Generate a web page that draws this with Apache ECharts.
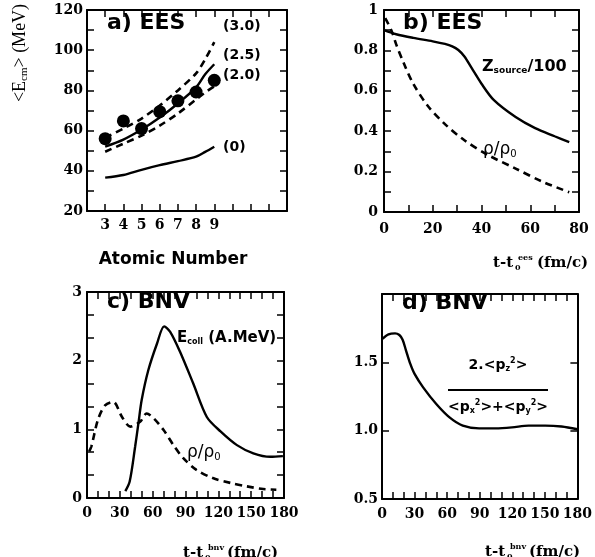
<!DOCTYPE html>
<html>
<head>
<meta charset="utf-8">
<script src="https://cdn.jsdelivr.net/npm/echarts@6/dist/echarts.min.js"></script>
<style>
html, body { margin: 0; padding: 0; background: #fff; }
#chart { width: 595px; height: 557px; }
</style>
</head>
<body>
<div id="chart"></div>
<script>
// a) EES : <Ecm> against atomic number
var atomicNumber = [3, 4, 5, 6, 7, 8, 9];
var eesPoints = [56, 64.8, 61, 69.4, 74.8, 79.2, 85];
var curveX = [3, 4, 5, 6, 7, 8, 8.5, 9];
var curve30 = [56.5, 61, 66, 72.5, 80, 88.5, 95.5, 104];
var curve25 = [52, 55.5, 60.5, 66.5, 73.5, 81.5, 88, 93];
var curve20 = [49.5, 53.5, 57.5, 62.5, 68.5, 75.5, 79, 82];
var curve0 = [36.6, 37.9, 40.5, 42.8, 44.8, 47, 49.4, 52];

// b) EES : Zsource/100 and rho/rho0 against time
var zTime = [0, 5, 12, 20, 25, 28, 30.5, 33, 36, 40, 45, 54, 62, 70, 76];
var zSource = [0.9, 0.88, 0.862, 0.845, 0.832, 0.82, 0.802, 0.77, 0.712, 0.635, 0.555, 0.47, 0.415, 0.375, 0.346];
var rhoTimeB = [0.5, 3, 5, 8, 12, 18, 25, 33, 43, 54, 65, 76];
var rhoB = [0.96, 0.9, 0.83, 0.74, 0.635, 0.525, 0.435, 0.355, 0.28, 0.215, 0.15, 0.098];

// c) BNV : Ecoll and rho/rho0 against time
var eTime = [35, 39, 44, 47, 50, 56, 64, 70.5, 76, 85, 97, 109.5, 122, 137, 152, 167.5, 179];
var eColl = [0.1, 0.24, 0.75, 1.09, 1.43, 1.86, 2.25, 2.5, 2.42, 2.13, 1.67, 1.18, 0.97, 0.77, 0.65, 0.6, 0.61];
var rhoTimeC = [2, 4, 10, 16.5, 24, 32, 39.5, 48.5, 54.5, 61, 70, 79, 88, 100, 115, 131, 146, 161, 173];
var rhoC = [0.68, 0.75, 1.14, 1.35, 1.4, 1.18, 1.04, 1.11, 1.23, 1.16, 0.99, 0.77, 0.58, 0.41, 0.29, 0.22, 0.17, 0.13, 0.12];

// d) BNV : momentum anisotropy against time
var dTime = [0, 6, 12, 16, 19, 22, 26, 30, 37.9, 50, 62.2, 74.4, 89.5, 104.7, 119.8, 135, 150.3, 165.4, 180];
var pRatio = [1.67, 1.705, 1.712, 1.7, 1.665, 1.59, 1.49, 1.415, 1.317, 1.195, 1.097, 1.037, 1.017, 1.017, 1.024, 1.037, 1.037, 1.03, 1.01];

function pairs(xs, ys) {
  return xs.map(function (x, i) { return [x, ys[i]]; });
}

var tickStyle = { color: '#000', width: 1.5 };
function axis(g, pos, min, max, step, minor, fmt, margin) {
  return {
    type: 'value', gridIndex: g, position: pos, min: min, max: max, interval: step,
    axisLine: { show: true, onZero: false, lineStyle: { color: '#000', width: 2 } },
    axisTick: { show: true, inside: true, length: 7, lineStyle: tickStyle },
    minorTick: { show: minor > 1, splitNumber: minor || 1, length: 7, lineStyle: tickStyle },
    splitLine: { show: false },
    axisLabel: fmt ? {
      show: true, formatter: fmt, margin: margin, color: '#000',
      fontFamily: 'DejaVu Serif', fontWeight: 'bold', fontSize: 14
    } : { show: false }
  };
}

var plain = function (v) { return String(v); };
var fmtA = function (v) { return (v >= 3 && v <= 9) ? String(v) : ''; };
var fmtB = function (v) { return (Math.abs(v) < 1e-9 || Math.abs(v - 1) < 1e-9) ? String(Math.round(v)) : v.toFixed(1); };
var fmtD = function (v) { return v > 1.9 ? '' : v.toFixed(1); };

var grids = [
  { left: 87, top: 10, width: 200, height: 201 },
  { left: 384, top: 10, width: 195, height: 202 },
  { left: 87, top: 292, width: 197, height: 206 },
  { left: 382, top: 294, width: 197, height: 205 }
];

var xAxes = [
  axis(0, 'bottom', 2, 13, 1, 0, fmtA, 7), axis(0, 'top', 2, 13, 1, 0),
  axis(1, 'bottom', 0, 80, 20, 2, plain, 10), axis(1, 'top', 0, 80, 20, 2),
  axis(2, 'bottom', 0, 180, 30, 3, plain, 8), axis(2, 'top', 0, 180, 30, 3),
  axis(3, 'bottom', 0, 180, 30, 3, plain, 8), axis(3, 'top', 0, 180, 30, 3)
];
var yAxes = [
  axis(0, 'left', 20, 120, 20, 2, plain, 4), axis(0, 'right', 20, 120, 20, 2),
  axis(1, 'left', 0, 1, 0.2, 2, fmtB, 6), axis(1, 'right', 0, 1, 0.2, 2),
  axis(2, 'left', 0, 3, 1, 3, plain, 5), axis(2, 'right', 0, 3, 1, 3),
  axis(3, 'left', 0.5, 2, 0.5, 0, fmtD, 4), axis(3, 'right', 0.5, 2, 0.5, 0)
];

function line(g, data, dashed) {
  return {
    type: 'line', xAxisIndex: 2 * g, yAxisIndex: 2 * g, data: data,
    showSymbol: false, smooth: 0.3, silent: true,
    lineStyle: { color: '#000', width: dashed ? 2.6 : 2.4, type: dashed ? [7, 5] : 'solid' }
  };
}

var series = [
  line(0, pairs(curveX, curve30), true),
  line(0, pairs(curveX, curve25), false),
  line(0, pairs(curveX, curve20), true),
  line(0, pairs(curveX, curve0), false),
  {
    type: 'scatter', xAxisIndex: 0, yAxisIndex: 0, data: pairs(atomicNumber, eesPoints),
    symbol: 'circle', symbolSize: 13, itemStyle: { color: '#000', opacity: 1 }, silent: true
  },
  line(1, pairs(zTime, zSource), false),
  line(1, pairs(rhoTimeB, rhoB), true),
  line(2, pairs(eTime, eColl), false),
  line(2, pairs(rhoTimeC, rhoC), true),
  line(3, pairs(dTime, pRatio), false)
];

// text helpers
var sansB = '"DejaVu Sans"';
function txt(x, y, text, size, extra) {
  var st = {
    text: text, fill: '#000', align: 'left', verticalAlign: 'middle',
    fontFamily: sansB, fontWeight: 'bold', fontSize: size
  };
  for (var k in extra) st[k] = extra[k];
  return { type: 'text', x: x, y: y, style: st, silent: true };
}
function rich(size, sub, weight, family) {
  return {
    b: { fontSize: size, fontWeight: weight, fontFamily: family, fill: '#000' },
    s: { fontSize: sub, fontWeight: weight, fontFamily: family, padding: [8, 0, 0, 0] },
    u: { fontSize: sub, fontWeight: weight, fontFamily: family, padding: [0, 0, 9, 0] }
  };
}
function timeTitle(x, y, sup) {
  var f = '"DejaVu Serif"';
  return [
    txt(x, y, 't-t', 15, { fontFamily: f }),
    txt(x + 22, y + 5, '0', 8, { fontFamily: f }),
    txt(x + 25, y - 5, sup, 8, { fontFamily: f }),
    txt(x + 44, y, '(fm/c)', 15, { fontFamily: f })
  ];
}

var graphics = [
  txt(107, 23, 'a) EES', 22),
  txt(223, 26, '(3.0)', 14),
  txt(223, 55, '(2.5)', 14),
  txt(223, 75, '(2.0)', 14),
  txt(223, 147, '(0)', 14),
  {
    type: 'text', x: 20, y: 53, rotation: Math.PI / 2, silent: true,
    style: {
      text: '{b|<E}{s|cm}{b|> (MeV)}', align: 'center', verticalAlign: 'middle',
      rich: rich(18, 11, 'normal', '"Liberation Serif"')
    }
  },
  txt(173, 260, 'Atomic Number', 17, { align: 'center' }),

  txt(403, 23, 'b) EES', 22),
  txt(482, 67, '{b|Z}{s|source}{b|/100}', 16, { rich: rich(16, 9, 'bold', sansB) }),
  txt(483, 150, '{b|ρ/ρ}{s|0}', 17, { rich: rich(17, 10, 'normal', sansB) }),

  txt(107, 302, 'c) BNV', 22),
  txt(177, 338, '{b|E}{s|coll}{b| (A.MeV)}', 15, { rich: rich(15, 8, 'bold', sansB) }),
  txt(187, 453, '{b|ρ/ρ}{s|0}', 17, { rich: rich(17, 10, 'normal', sansB) }),

  txt(402, 303, 'd) BNV', 22),
  txt(498, 365, '{b|2.<p}{s|z}{u|2}{b|>}', 14, { align: 'center', rich: rich(14, 8, 'bold', sansB) }),
  {
    type: 'line', silent: true,
    shape: { x1: 448, y1: 390, x2: 548, y2: 390 },
    style: { stroke: '#000', lineWidth: 2 }
  },
  txt(498, 407, '{b|<p}{s|x}{u|2}{b|>+<p}{s|y}{u|2}{b|>}', 14, { align: 'center', rich: rich(14, 8, 'bold', sansB) })
].concat(timeTitle(493, 263, 'ees'), timeTitle(183, 553, 'bnv'), timeTitle(485, 552, 'bnv'));

var chart = echarts.init(document.getElementById('chart'));
chart.setOption({
  animation: false,
  backgroundColor: '#fff',
  grid: grids,
  xAxis: xAxes,
  yAxis: yAxes,
  series: series,
  graphic: graphics
});
</script>
</body>
</html>
